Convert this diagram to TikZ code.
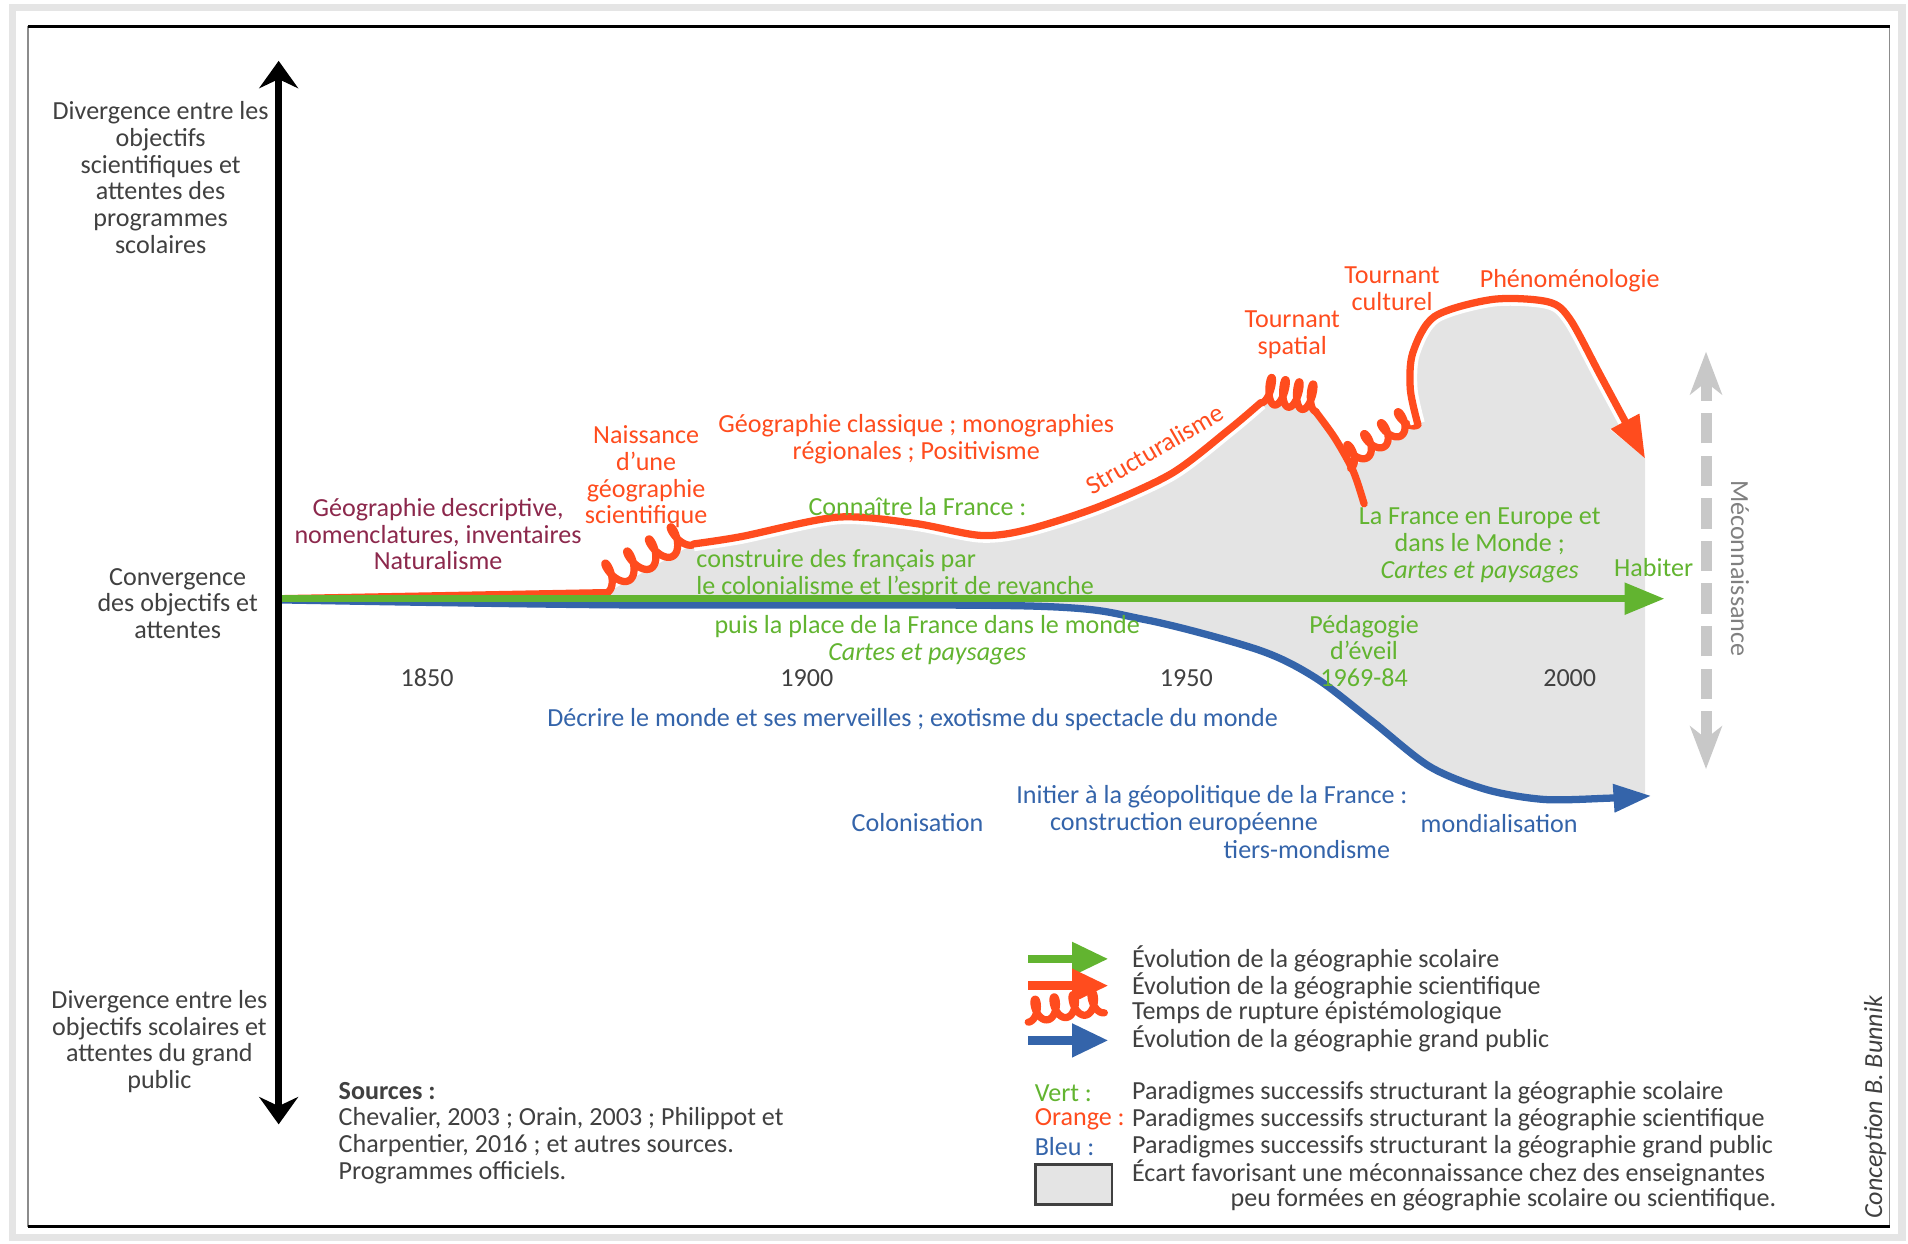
\documentclass[tikz,border=0pt]{standalone}
\usepackage{fontspec}
\setmainfont{Carlito}
\usetikzlibrary{arrows.meta}

\definecolor{scigeo}{RGB}{255,76,30}
\definecolor{scogeo}{RGB}{98,180,48}
\definecolor{pubgeo}{RGB}{52,100,170}
\definecolor{natgeo}{RGB}{140,40,76}
\definecolor{gapgrey}{RGB}{228,228,228}
\definecolor{txtgrey}{RGB}{64,64,64}
\definecolor{mecgrey}{RGB}{200,200,200}

% loops of an epistemological break: start, angle, length, degrees, half width, height
\newcommand{\boucles}[6]{%
    \draw[sciline, shift={#1}, rotate=#2] plot[domain=0:#4, samples=240, variable=\t]
        ({#3/#4*\t + #5*sin(\t)}, {-#6*(1-cos(\t))/2});
}

\begin{document}
\begin{tikzpicture}[x=0.02cm, y=-0.02cm,
    lbl/.style={inner sep=0pt, align=center, font=\fontsize{12.2}{12.5}\selectfont},
    axlbl/.style={lbl, text=txtgrey},
    natlbl/.style={lbl, text=natgeo},
    scilbl/.style={lbl, text=scigeo},
    scolbl/.style={lbl, text=scogeo},
    publbl/.style={lbl, text=pubgeo},
    sciline/.style={draw=scigeo, line width=3.4pt, line cap=round, line join=round},
    scoline/.style={draw=scogeo, line width=3.4pt},
    publine/.style={draw=pubgeo, line width=3.4pt, line cap=round},
    legarrow/.style={line width=0.14cm, -{Triangle[length=0.6cm, width=0.52cm]}}]
    \useasboundingbox (0,0) rectangle (1568,1022);

    % frame
    \draw[black!10, line width=0.12cm] (10,6) rectangle (1563,1017);
    \draw[black!45, line width=0.5pt] (23,22) rectangle (1553,1008);
    \draw[black, line width=1.5pt] (23,22) -- (1553,22);
    \draw[black, line width=1.5pt] (23,1008) -- (1553,1008);

    \coordinate (axtop) at (229,50);
    \coordinate (axbot) at (229,924);
    \coordinate (O) at (231,492);
    \coordinate (scoEnd) at (1368,492);
    \coordinate (sciA) at (499,487);
    \coordinate (mtop) at (1402,289);
    \coordinate (mbot) at (1402,632);

    % gap between the three geographies
    \fill[gapgrey] (499,497) -- (sciA) -- (570,447)
        -- plot[smooth] coordinates {(570,447) (609,441) (688,425) (751,430) (806,440) (845,435) (904,416) (963,389) (1010,353) (1036,331)}
        -- plot[smooth] coordinates {(1081,338) (1097,360) (1110,385)}
        -- plot[smooth] coordinates {(1165,348) (1159,320) (1161,290) (1179,260) (1227,246) (1272,248) (1290,262) (1316,310) (1352,377)}
        -- (1352,652)
        -- plot[smooth] coordinates {(1352,654) (1320,656) (1269,657) (1222,649) (1175,630) (1128,593) (1081,557) (1034,534) (940,509) (846,498) (499,497)}
        -- cycle;

    % scientific geography
    \draw[sciline] (O) -- (sciA);
    \boucles{(sciA)}{29}{82}{1440}{5}{22}
    \draw[sciline, preaction={draw=white, line width=6.8pt}] plot[smooth] coordinates {(570,447) (609,441) (688,425) (751,430) (806,440) (845,435) (904,416) (963,389) (1010,353) (1036,331)};
    \boucles{(1036,331)}{-9}{46}{1440}{3.5}{22}
    \draw[sciline] plot[smooth] coordinates {(1081,338) (1097,360) (1112,387) (1121,414)};
    \boucles{(1110,385)}{33}{66}{1440}{4.5}{18}
    \draw[sciline, preaction={draw=white, line width=6.8pt}, -{Triangle[length=0.7cm, width=0.5cm]}] plot[smooth] coordinates {(1165,348) (1159,320) (1161,290) (1179,260) (1227,246) (1272,248) (1290,262) (1316,310) (1352,377)};

    % general public and school geography
    \draw[publine, -{Triangle[length=0.62cm, width=0.44cm]}] plot[smooth] coordinates {(231,493) (499,497) (846,498) (940,509) (1034,534) (1081,557) (1128,593) (1175,630) (1222,649) (1269,657) (1320,656) (1357,654)};
    \draw[scoline, -{Triangle[length=0.66cm, width=0.5cm]}] (O) -- (scoEnd);

    \draw[line width=3.4pt, {Stealth[length=0.45cm, width=0.64cm, inset=0.15cm]}-{Stealth[length=0.45cm, width=0.64cm, inset=0.15cm]}] (axbot) -- (axtop);
    \draw[mecgrey, line width=0.18cm, dash pattern=on 0.5cm off 0.2cm, {Stealth[length=0.7cm, width=0.52cm, inset=0.2cm]}-{Stealth[length=0.7cm, width=0.52cm, inset=0.2cm]}] (mbot) -- (mtop);

    \node[axlbl] (divsci) at (132,146) {Divergence entre les\\objectifs\\scientifiques et\\attentes des\\programmes\\scolaires};
    \node[axlbl] (conv) at (146,496) {Convergence\\des objectifs et\\attentes};
    \node[axlbl] (divpub) at (131,856) {Divergence entre les\\objectifs scolaires et\\attentes du grand\\public};
    \foreach \yr/\xx in {1850/351, 1900/663, 1950/975, 2000/1290}
        \node[axlbl] (y\yr) at (\xx,557) {\yr};

    \node[natlbl] (descr) at (360,439) {Géographie descriptive,\\nomenclatures, inventaires\\Naturalisme};
    \node[scilbl] (naiss) at (531,392) {Naissance\\d’une\\géographie\\scientifique};
    \node[scilbl] (classq) at (753,361) {Géographie classique ; monographies\\régionales ; Positivisme};
    \node[scilbl, rotate=30] (struct) at (949,369) {Structuralisme};
    \node[scilbl] (spat) at (1062,275) {Tournant\\spatial};
    \node[scilbl] (cult) at (1144,237) {Tournant\\culturel};
    \node[scilbl] (pheno) at (1290,231) {Phénoménologie};

    \node[scolbl] (connai) at (754,416) {Connaître la France :};
    \node[scolbl, align=left, anchor=west] (constr) at (572,472) {construire des français par\\le colonialisme et l’esprit de revanche};
    \node[scolbl] (place) at (762,526) {puis la place de la France dans le monde\\\textit{Cartes et paysages}};
    \node[scolbl] (europe) at (1216,448) {La France en Europe et\\dans le Monde ;\\\textit{Cartes et paysages}};
    \node[scolbl] (habit) at (1359,466) {Habiter};
    \node[scolbl] (eveil) at (1121,535) {Pédagogie\\d’éveil\\1969-84};

    \node[publbl] (decr) at (750,591) {Décrire le monde et ses merveilles ; exotisme du spectacle du monde};
    \node[publbl] (colon) at (754,676) {Colonisation};
    \node[publbl] (init) at (996,655) {Initier à la géopolitique de la France :};
    \node[publbl] (europ) at (973,677) {construction européenne};
    \node[publbl] (tiers) at (1074,698) {tiers-mondisme};
    \node[publbl] (mondi) at (1232,677) {mondialisation};

    \node[lbl, text=black!50, rotate=-90] (mecon) at (1430,467) {Méconnaissance};

    \node[axlbl, align=left, anchor=west] (src) at (278,931) {\textbf{Sources :}\\Chevalier, 2003 ; Orain, 2003 ; Philippot et\\Charpentier, 2016 ; et autres sources.\\Programmes officiels.};

    % legend
    \coordinate (lgSco) at (845,788);
    \coordinate (lgSci) at (845,810);
    \coordinate (lgPub) at (845,855);
    \draw[legarrow, scogeo] (lgSco) -- +(66,0);
    \draw[legarrow, scigeo] (lgSci) -- +(66,0);
    \boucles{(845,840)}{7}{63}{1440}{4.5}{18}
    \draw[legarrow, pubgeo] (lgPub) -- +(66,0);
    \node[axlbl, anchor=west] (lgt1) at (930,788) {Évolution de la géographie scolaire};
    \node[axlbl, anchor=west] (lgt2) at (930,810) {Évolution de la géographie scientifique};
    \node[axlbl, anchor=west] (lgt3) at (930,832) {Temps de rupture épistémologique};
    \node[axlbl, anchor=west] (lgt4) at (930,854) {Évolution de la géographie grand public};

    \node[scolbl, anchor=west] (vert) at (850,898) {Vert :};
    \node[scilbl, anchor=west] (orng) at (850,920) {Orange :};
    \node[publbl, anchor=west] (bleu) at (850,942) {Bleu :};
    \node[axlbl, anchor=west] (pd1) at (930,898) {Paradigmes successifs structurant la géographie scolaire};
    \node[axlbl, anchor=west] (pd2) at (930,920) {Paradigmes successifs structurant la géographie scientifique};
    \node[axlbl, anchor=west] (pd3) at (930,942) {Paradigmes successifs structurant la géographie grand public};
    \draw[txtgrey, fill=gapgrey, line width=1.2pt] (851,957) rectangle (914,990);
    \node[axlbl, anchor=west] (ecart1) at (930,964) {Écart favorisant une méconnaissance chez des enseignantes};
    \node[axlbl, anchor=east] (ecart2) at (1460,986) {peu formées en géographie scolaire ou scientifique.};

    \node[axlbl, rotate=90, font=\fontsize{12.2}{12.5}\selectfont\itshape] (concep) at (1541,910) {Conception B. Bunnik};
\end{tikzpicture}
\end{document}
